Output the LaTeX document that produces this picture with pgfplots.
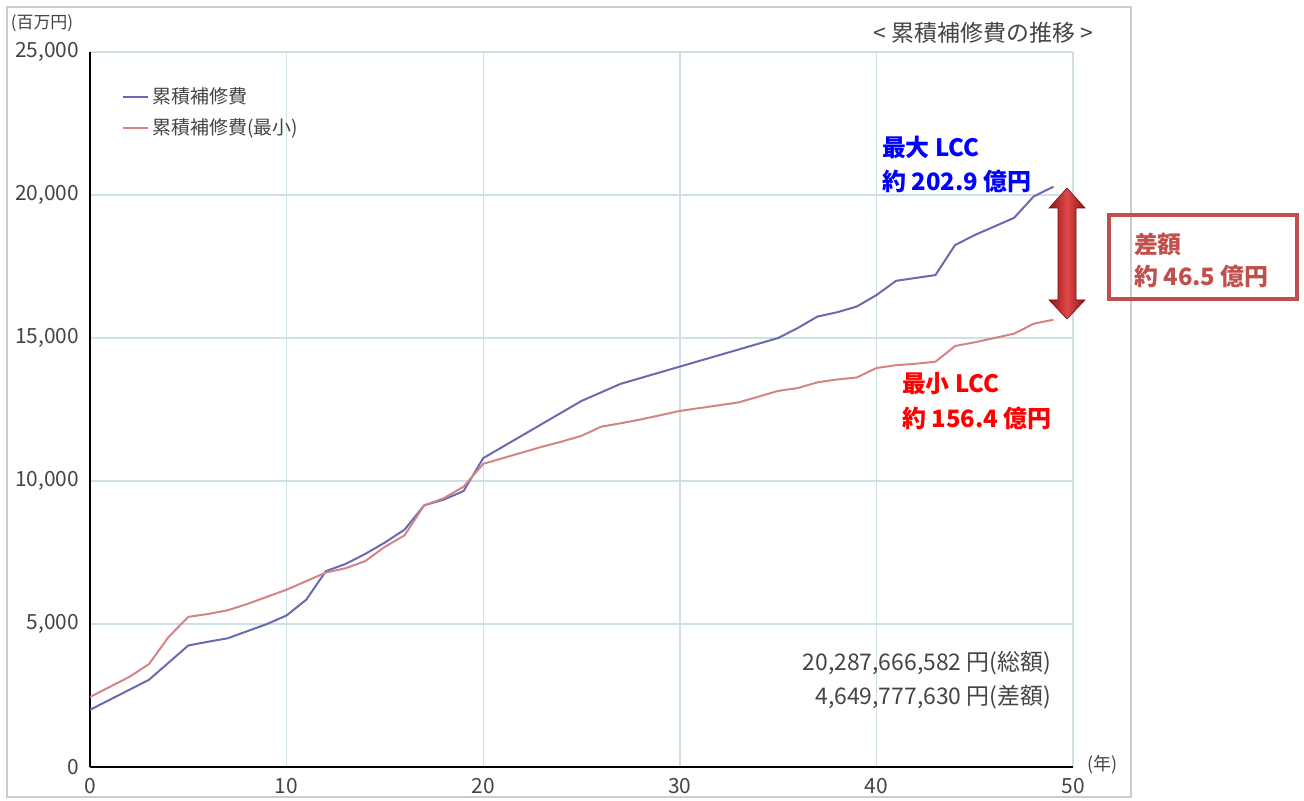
\documentclass[border=0pt]{standalone}
\usepackage{pgfplots}
\pgfplotsset{compat=1.18}
\usepackage{fontspec}
\setmainfont{Noto Sans CJK JP}
\definecolor{gridc}{HTML}{CFE0E4}
\definecolor{maxc}{HTML}{6A6AB0}
\definecolor{minc}{HTML}{D48484}
\definecolor{txtc}{HTML}{444444}
\definecolor{boxc}{HTML}{C0504D}
\definecolor{arrd}{HTML}{8E1414}
\definecolor{arrl}{HTML}{E04848}

\pgfplotstableread{
year total
0 2000
1 2350
2 2700
3 3050
4 3650
5 4250
6 4380
7 4500
8 4750
9 5000
10 5300
11 5850
12 6850
13 7100
14 7450
15 7850
16 8300
17 9150
18 9350
19 9650
20 10800
21 11200
22 11600
23 12000
24 12400
25 12800
26 13100
27 13400
28 13600
29 13800
30 14000
31 14200
32 14400
33 14600
34 14800
35 15000
36 15350
37 15750
38 15900
39 16100
40 16500
41 17000
42 17100
43 17200
44 18250
45 18600
46 18900
47 19200
48 19950
49 20290
}\maxtable

\pgfplotstableread{
year total
0 2450
1 2800
2 3150
3 3600
4 4550
5 5250
6 5350
7 5480
8 5700
9 5950
10 6200
11 6500
12 6800
13 6950
14 7200
15 7700
16 8100
17 9150
18 9400
19 9800
20 10600
21 10800
22 11000
23 11200
24 11380
25 11580
26 11900
27 12020
28 12150
29 12300
30 12450
31 12550
32 12650
33 12750
34 12950
35 13150
36 13250
37 13450
38 13550
39 13620
40 13950
41 14050
42 14100
43 14170
44 14720
45 14850
46 15000
47 15150
48 15500
49 15640
}\mintable

\begin{document}
\begin{tikzpicture}
\begin{axis}[
    at={(0,0)}, anchor=south west,
    scale only axis,
    width=491.5bp, height=357.5bp,
    xmin=0, xmax=50, ymin=0, ymax=25000,
    xtick={0,10,...,50},
    ytick={0,5000,...,25000},
    scaled y ticks=false,
    /pgf/number format/assume math mode=true,
    /pgf/number format/1000 sep={,},
    axis lines*=left,
    axis line style={black, line width=1bp},
    grid=major,
    major grid style={gridc, line width=0.7bp},
    major tick length=0pt,
    tick label style={txtc, font=\fontsize{10.5}{12}\selectfont},
    yticklabel style={xshift=-2bp},
    xticklabel style={yshift=-2bp},
    legend cell align=left,
    legend style={draw=none, fill=none, at={(axis cs:1.6,23920)}, anchor=north west,
        font=\fontsize{9.5}{11}\selectfont, text=txtc, row sep=2bp, inner sep=0pt},
    legend image code/.code={\draw[#1] (0bp,0bp) -- (12.5bp,0bp);},
]
\addplot[maxc, line width=1bp] table[x=year, y=total] {\maxtable};
\addlegendentry{累積補修費}
\addplot[minc, line width=1bp] table[x=year, y=total] {\mintable};
\addlegendentry{累積補修費(最小)}
\end{axis}
\begin{scope}[shift={(-45bp,383.5bp)}, x=0.5bp, y=-0.5bp]
\path (0,0) rectangle (1304,799);
\draw[gray!40, line width=0.8bp] (7,7) rectangle (1131,797);
\node[txtc, font=\fontsize{8.5}{10}\selectfont] at (42,23) {(百万円)};
\node[txtc, font=\fontsize{9}{10}\selectfont, anchor=west] at (1080,765) {(年)};
\node[txtc, font=\fontsize{11.5}{13}\selectfont, anchor=east] at (1100,33) {< 累積補修費の推移 >};
\node[txtc, font=\fontsize{11.5}{13}\selectfont, anchor=east] at (1058,663) {20,287,666,582 円(総額)};
\node[txtc, font=\fontsize{11.5}{13}\selectfont, anchor=east] at (1058,697) {4,649,777,630 円(差額)};
\node[blue, font=\bfseries\fontsize{12}{14}\selectfont, anchor=west] at (875,147) {最大 LCC};
\node[blue, font=\bfseries\fontsize{12}{14}\selectfont, anchor=west] at (875,181) {約 202.9 億円};
\node[red, font=\bfseries\fontsize{12}{14}\selectfont, anchor=west] at (895,384) {最小 LCC};
\node[red, font=\bfseries\fontsize{12}{14}\selectfont, anchor=west] at (895,418) {約 156.4 億円};
\draw[boxc, line width=2bp] (1109,215) rectangle (1297,299);
\node[boxc, font=\bfseries\fontsize{12}{14}\selectfont, anchor=west] at (1127,244) {差額};
\node[boxc, font=\bfseries\fontsize{12}{14}\selectfont, anchor=west] at (1127,276) {約 46.5 億円};
\shade[left color=arrd, right color=arrd, middle color=arrl, draw=arrd!80!black, line width=0.3bp]
  (1067,188) -- (1085,208) -- (1076,208) -- (1076,300) -- (1085,300) -- (1067,319)
  -- (1049,300) -- (1058,300) -- (1058,208) -- (1049,208) -- cycle;
\end{scope}
\end{tikzpicture}
\end{document}
